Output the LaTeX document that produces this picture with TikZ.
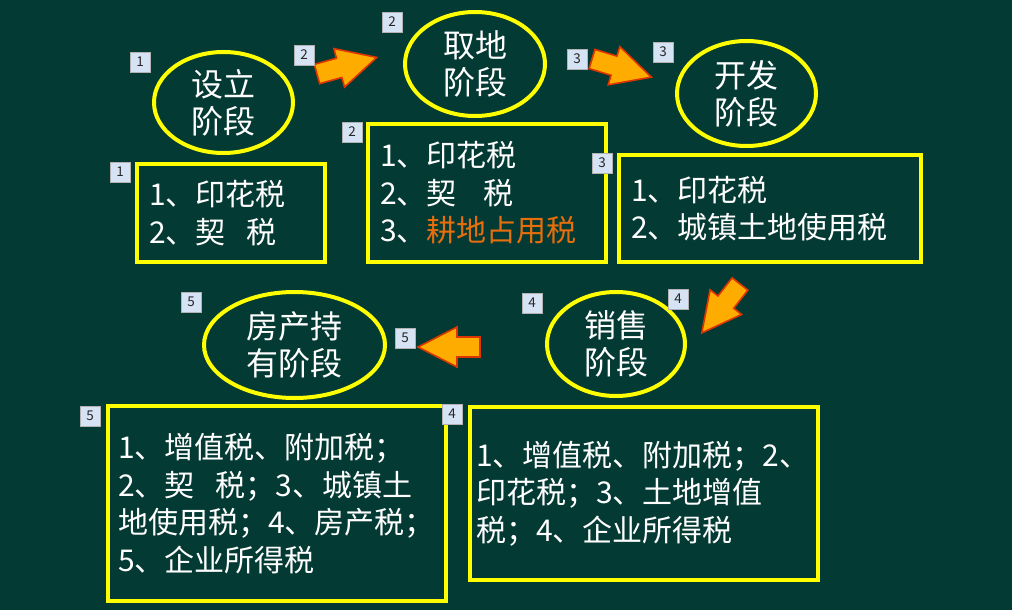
\documentclass[tikz,border=0pt]{standalone}
\usepackage{fontspec}
\setmainfont{Noto Sans CJK SC}
\usetikzlibrary{shapes.geometric}

\definecolor{board}{RGB}{4,58,52}
\definecolor{stageline}{RGB}{255,255,0}
\definecolor{arrowfill}{RGB}{255,172,0}
\definecolor{arrowedge}{RGB}{222,52,0}
\definecolor{badgefill}{RGB}{214,227,245}
\definecolor{landtax}{RGB}{230,110,12}

\tikzset{
  stage/.style={ellipse, draw=stageline, line width=4pt, text=white,
    align=center, inner sep=0pt, font=\fontsize{32}{37}\selectfont},
  taxbox/.style={rectangle, draw=stageline, line width=4pt, text=white,
    align=left, anchor=north west, font=\fontsize{30}{37.5}\selectfont},
  badge/.style={draw=gray!60, fill=badgefill, minimum size=20pt,
    inner sep=0pt, text=black!85, font=\fontsize{13.5}{13.5}\selectfont},
  blockarrow/.style={fill=arrowfill, draw=arrowedge, line width=1.6pt}
}

\begin{document}
\begin{tikzpicture}[x=1pt, y=-1pt]
  % Board
  \fill[board] (0,0) rectangle (1012,610);
  \useasboundingbox (0,0) rectangle (1012,610);

  % Stages
  \node[stage, minimum width=139pt, minimum height=101pt] (setup) at (223.5,102.5) {设立\\阶段};
  \node[stage, minimum width=140pt, minimum height=104pt] (land) at (475,64) {取地\\阶段};
  \node[stage, minimum width=139pt, minimum height=105pt] (build) at (746.5,93.5) {开发\\阶段};
  \node[stage, minimum width=138pt, minimum height=104pt] (sale) at (616,344) {销售\\阶段};
  \node[stage, minimum width=181pt, minimum height=106pt] (hold) at (294.5,345) {房产持\\有阶段};

  % Taxes of each stage
  \node[taxbox, inner xsep=12pt, text width=164pt, minimum height=98pt] (setuptax) at (135,162)
    {1、印花税\\2、契\hspace{0.7em}税};
  \node[taxbox, inner xsep=12pt, text width=214pt, minimum height=138pt] (landtax) at (366,122)
    {1、印花税\\2、契\hspace{0.9em}税\\3、{\color{landtax}耕地占用税}};
  \node[taxbox, inner xsep=12pt, text width=278pt, minimum height=107pt] (buildtax) at (617,153)
    {1、印花税\\2、城镇土地使用税};
  \node[taxbox, inner xsep=6pt, text width=336pt, minimum height=173pt] (saletax) at (468,405)
    {1、增值税、附加税；2、\\印花税；3、土地增值\\税；4、企业所得税};
  \node[taxbox, inner xsep=10pt, text width=318pt, minimum height=195pt] (holdtax) at (106,404)
    {1、增值税、附加税；\\2、契\hspace{0.7em}税；3、城镇土\\地使用税；4、房产税；\\5、企业所得税};

  % Block arrows: tail x/y and direction
  \foreach \tx/\ty/\ang in {317/74/15.5, 592/59/-17, 740/284/232, 480/347/180} {
    \draw[blockarrow, shift={(\tx,\ty)}, rotate=\ang]
      (0,-10) -- (23,-10) -- (23,-20) -- (62,0) -- (23,20) -- (23,10) -- (0,10) -- cycle;
  }

  % Number badges
  \foreach \bx/\by/\num [count=\k] in {140/62/1, 120/172/1, 304/55/2, 392/22/2, 352/132/2,
      577/59/3, 663/52/3, 602/163/3, 532/303/4, 678/299/4, 452/414/4,
      405/338/5, 191/302/5, 90/416/5} {
    \node[badge] (badge\k) at (\bx,\by) {\num};
  }
\end{tikzpicture}
\end{document}
